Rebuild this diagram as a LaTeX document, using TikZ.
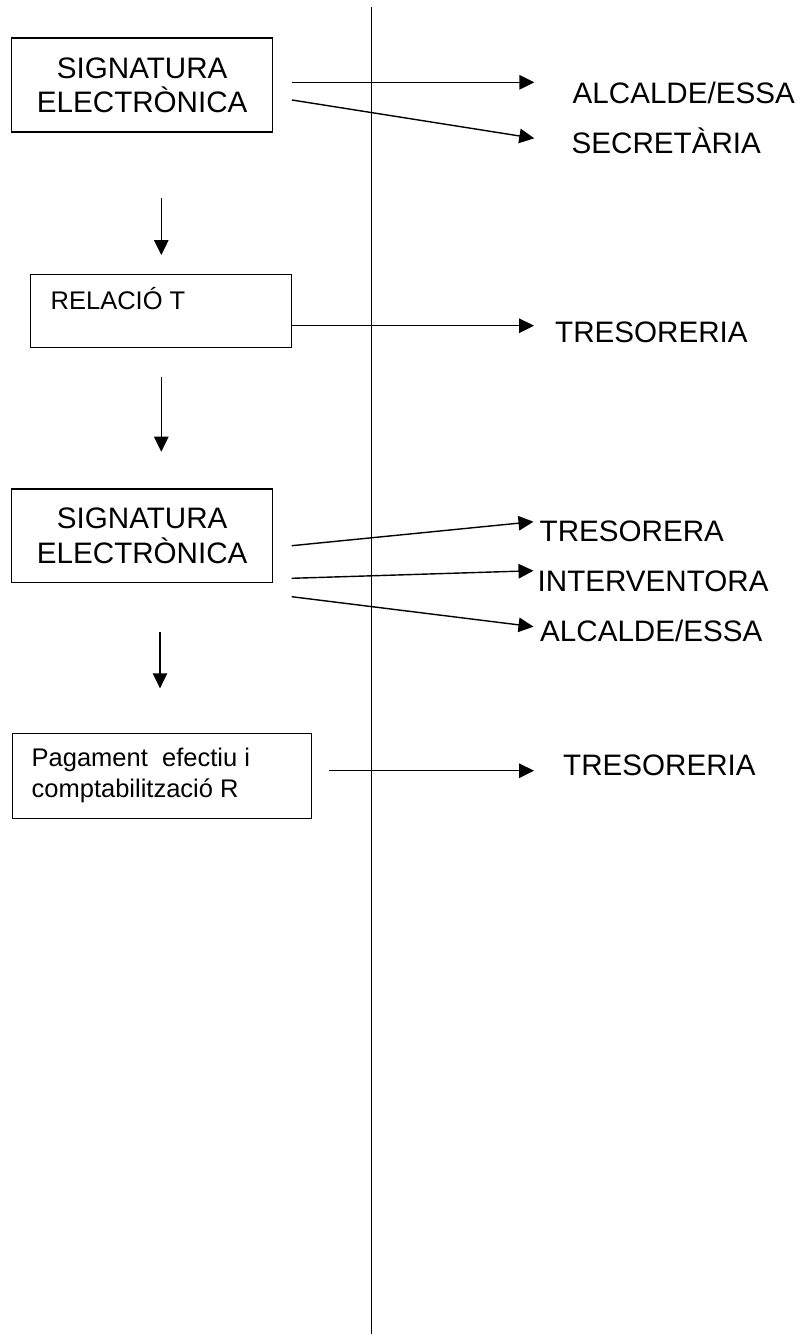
\documentclass[tikz,border=0pt]{standalone}
\usepackage{fontspec}
\setmainfont{Liberation Sans}
\usetikzlibrary{arrows.meta}
\newcommand\bigf{\fontsize{29.6}{34.3}\selectfont}
\newcommand\smallf{\fontsize{25.5}{30.6}\selectfont}
\begin{document}
\begin{tikzpicture}[x=1pt,y=-1pt,
  box/.style={draw, line width=1.4pt, inner sep=0pt},
  arr/.style={line width=1.4pt, -{Triangle[length=15pt,width=14.5pt]}},
  lbl/.style={inner sep=0pt, anchor=base west, font=\bigf},
  slbl/.style={inner sep=0pt, anchor=base west, font=\smallf},
]
\useasboundingbox (0,0) rectangle (801,1334);

% central divider
\coordinate (divtop) at (371.7,7);
\coordinate (divbot) at (371.7,1334);
\draw[line width=1.5pt] (divtop) -- (divbot);

% boxes
\node[box, align=center, font=\bigf, minimum width=261pt, minimum height=94pt]
  (sig1) at (142.2,85) {SIGNATURA\\ELECTRÒNICA};
\node[box, minimum width=261pt, minimum height=72.7pt, anchor=north west]
  (rel) at (30,274) {};
\node[slbl] (reltxt) at (50.5,309) {RELACIÓ T};
\node[box, align=center, font=\bigf, minimum width=261pt, minimum height=93.7pt]
  (sig2) at (142.2,535.8) {SIGNATURA\\ELECTRÒNICA};
\node[box, minimum width=299pt, minimum height=85pt, anchor=north west]
  (pag) at (11.7,732.7) {};
\node[slbl] (pagA) at (31.5,766.7) {Pagament\ \ efectiu i};
\node[slbl] (pagB) at (31.5,797.3) {comptabilització R};

% labels on the right
\node[lbl] (alc1) at (572.5,103.3) {ALCALDE/ESSA};
\node[lbl] (sec) at (571.5,153.3) {SECRETÀRIA};
\node[lbl] (tre1) at (555,342.7) {TRESORERIA};
\node[lbl] (tra) at (539.5,541.7) {TRESORERA};
\node[lbl] (int) at (537.5,591) {INTERVENTORA};
\node[lbl] (alc2) at (540,641) {ALCALDE/ESSA};
\node[lbl] (tre2) at (563,775) {TRESORERIA};

% connector endpoints
\coordinate (a1s) at (292,82.3);   \coordinate (a1e) at (534.3,82.3);
\coordinate (a2s) at (292,100);    \coordinate (a2e) at (534.3,138.3);
\coordinate (d1s) at (161.3,198);  \coordinate (d1e) at (161.3,255);
\coordinate (a3e) at (534,325.7);
\coordinate (d2s) at (161.3,376.7);\coordinate (d2e) at (161.3,451.7);
\coordinate (a4s) at (291.7,545.7);\coordinate (a4e) at (533.5,521.7);
\coordinate (a5s) at (291.7,578.3);\coordinate (a5e) at (533.5,570.7);
\coordinate (a6s) at (291.7,596.7);\coordinate (a6e) at (533.5,626.7);
\coordinate (d3s) at (160,632);    \coordinate (d3e) at (160,688.3);
\coordinate (a7s) at (329,770.7);  \coordinate (a7e) at (534,770.7);

\draw[arr] (a1s) -- (a1e);
\draw[arr] (a2s) -- (a2e);
\draw[arr] (d1s) -- (d1e);
\draw[arr] (rel.east |- a3e) -- (a3e);
\draw[arr] (d2s) -- (d2e);
\draw[arr] (a4s) -- (a4e);
\draw[arr] (a5s) -- (a5e);
\draw[arr] (a6s) -- (a6e);
\draw[arr] (d3s) -- (d3e);
\draw[arr] (a7s) -- (a7e);
\end{tikzpicture}
\end{document}
